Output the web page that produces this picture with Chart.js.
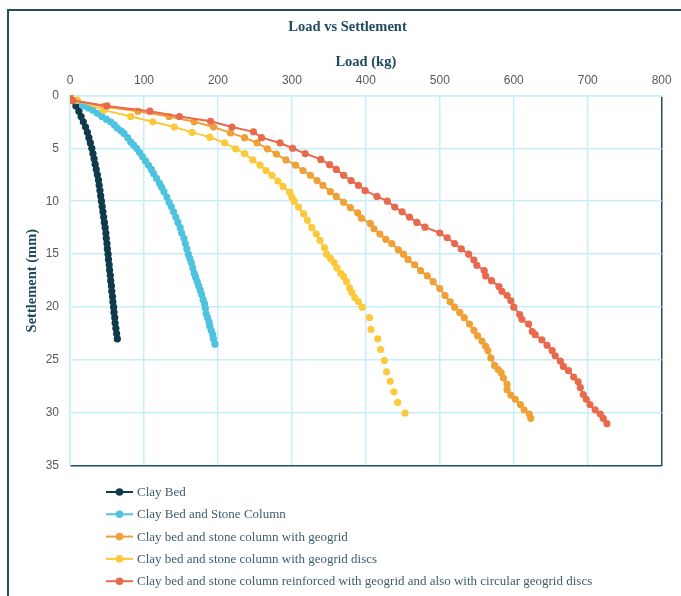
<!DOCTYPE html>
<html>
<head>
<meta charset="utf-8">
<script src="https://cdn.jsdelivr.net/npm/chart.js@4.4.1/dist/chart.umd.min.js"></script>
<style>
  html, body { margin: 0; padding: 0; background: #ffffff; overflow: hidden; width: 681px; height: 596px; }
  #frame { position: absolute; left: 7px; top: 9px; width: 700px; height: 620px;
           border-left: 2px solid #1f4e5f; border-top: 2px solid #1f4e5f; }
  #c { position: absolute; left: 0; top: 0; }
</style>
</head>
<body>
<div id="frame"><canvas id="c" width="677" height="587"></canvas></div>
<script>
// ---------- DATA ----------
const seriesNames = [
  'Clay Bed',
  'Clay Bed and Stone Column',
  'Clay bed and stone column with geogrid',
  'Clay bed and stone column with geogrid discs',
  'Clay bed and stone column reinforced with geogrid and also with circular geogrid discs'
];

const xTicks = [0, 100, 200, 300, 400, 500, 600, 700, 800];
const yTicks = [0, 5, 10, 15, 20, 25, 30, 35];

// Clay Bed
const clayLoad = [0,4,8,12,15,18,21,23.5,25.5,27.5,29.5,31,32.5,34,35.5,37,38.5,39.5,40.5,41.5,42.5,43.5,44.5,45.5,46.5,47.5,48.5,49,50,50.5,51.5,52,53,53.5,54.5,55,56,56.5,57.5,58,59,59.5,60.5,61,62,63,64];
const claySettle = [0,0.5,1,1.5,2,2.5,3,3.5,4,4.5,5,5.5,6,6.5,7,7.5,8,8.5,9,9.5,10,10.5,11,11.5,12,12.5,13,13.5,14,14.5,15,15.5,16,16.5,17,17.5,18,18.5,19,19.5,20,20.5,21,21.5,22,22.5,23];

// Clay Bed and Stone Column
const scLoad = [0,8,18,25,31,37,43,49,55,60,64,69,73,78,82,86,90,94,98,102,106,110,113,117,121,124,127,131,134,137,140,143,146,149,151,154,156,158,160,162,164,166,168,170,172,174,176,178,180,182,183,184,186,188,189,191,193,194,196];
const scSettle = [0,0.5,1.0,1.2,1.4,1.7,2.0,2.25,2.5,2.8,3.1,3.35,3.6,4.0,4.4,4.7,5.0,5.4,5.8,6.2,6.6,7.0,7.4,7.85,8.3,8.7,9.1,9.6,10.1,10.5,11.0,11.5,12.0,12.5,13.0,13.5,14.0,14.5,15.0,15.4,15.8,16.3,16.8,17.2,17.6,18.0,18.4,18.8,19.3,19.7,20.1,20.6,21.0,21.4,21.8,22.2,22.6,23.0,23.5];

// Clay bed and stone column with geogrid
const ggLoad = [0,3,46,92,134,168,194,217,236,253,267,279,292,305,315,325,334,342,352,360,370,379,389,394,406,411,419,427,435,444,451,457,466,474,483,491,500,507,514,520,527,533,540,546,551,557,562,565,569,574,579,583,586,591,591,596,602,609,614,621,623];
const ggSettle = [0,0.5,1.05,1.5,2.0,2.5,3.0,3.55,4.0,4.5,5.05,5.55,6.1,6.6,7.1,7.55,8.05,8.5,9.1,9.55,10.1,10.6,11.1,11.6,12.1,12.6,13.1,13.6,14.0,14.6,15.0,15.5,16.0,16.55,17.05,17.6,18.25,18.9,19.5,20.0,20.5,21.0,21.6,22.2,22.7,23.2,23.7,24.1,24.8,25.5,25.9,26.2,26.7,27.3,27.8,28.3,28.7,29.2,29.7,30.1,30.5];

// Clay bed and stone column with geogrid discs
const gdLoad = [0,10,46,82,112,141,165,189,209,224,236,247,257,265,273,281,288,297,300,303,309,316,321,327,333,338,344,347,352,357,361,366,370,374,378,381,385,390,395,405,407,416,420,425,428,433,438,443,453];
const gdSettle = [0,0.45,1.4,2.0,2.5,3.0,3.5,3.95,4.5,5.05,5.5,6.1,6.6,7.1,7.55,8.1,8.6,9.15,9.6,10.0,10.55,11.2,11.8,12.5,13.1,13.7,14.4,15.0,15.4,15.8,16.3,16.8,17.1,17.6,18.2,18.6,19.1,19.5,20.0,21.0,22.1,23.0,24.0,25.05,26.1,27.0,28.0,29.0,30.0];

// Reinforced with geogrid and circular geogrid discs
const rcLoad = [0,4,50,108,148,190,219,248,259,284,301,318,339,351,360,370,380,390,399,415,429,439,449,459,469,480,500,510,520,529,539,546,550,560,562,570,580,584,591,596,600,608,611,620,625,629,638,645,652,656,663,667,674,681,687,690,694,698,703,710,717,721,726];
const rcSettle = [0,0.5,1.0,1.5,2.0,2.45,3.0,3.45,4.0,4.5,5.0,5.5,6.05,6.55,7.0,7.55,8.05,8.5,9.0,9.55,10.0,10.55,11.0,11.5,12.0,12.45,13.0,13.45,14.0,14.5,15.0,15.55,16.05,16.55,17.05,17.5,18.05,18.5,18.9,19.4,20.0,20.7,21.15,21.6,22.3,22.6,23.1,23.6,24.1,24.6,25.1,25.6,26.0,26.6,27.05,27.6,28.25,28.7,29.2,29.7,30.1,30.5,31.0];

// ---------- STYLES ----------
const colors = ['#0e3a4b', '#4ec3e0', '#f0a035', '#fdc93a', '#e9694c'];
const GRID = '#c6effb';
const DARK = '#1f4e5f';
const TITLE_COLOR = '#1e4a5b';

function pts(xs, ys) { return xs.map((x, i) => ({ x: x, y: ys[i] })); }
const seriesData = [
  pts(clayLoad, claySettle),
  pts(scLoad, scSettle),
  pts(ggLoad, ggSettle),
  pts(gdLoad, gdSettle),
  pts(rcLoad, rcSettle)
];

const datasets = seriesData.map((d, i) => {
  const ds = {
    label: seriesNames[i],
    data: d,
    borderColor: colors[i],
    backgroundColor: colors[i],
    pointBackgroundColor: colors[i],
    pointBorderColor: colors[i],
    pointBorderWidth: 0,
    pointRadius: 3.6,
    pointHoverRadius: 3.6,
    borderWidth: 2,
    tension: 0,
    fill: false,
    yAxisID: 'y'
  };
  if (i === 3) {
    ds.segment = { borderColor: c => (c.p0.parsed.y >= 20 ? 'rgba(0,0,0,0)' : undefined) };
  }
  return ds;
});
datasets.forEach((ds, i) => { ds.order = 4 - i; });

const stackLegend = {
  id: 'stackLegend',
  afterDraw(chart) {
    const ctx = chart.ctx;
    const y0 = 481, dy = 22.3;
    chart.data.datasets.forEach((ds, i) => {
      const y = y0 + i * dy;
      ctx.save();
      ctx.strokeStyle = ds.borderColor;
      ctx.lineWidth = 2;
      ctx.beginPath(); ctx.moveTo(97, y); ctx.lineTo(124, y); ctx.stroke();
      ctx.fillStyle = ds.backgroundColor;
      ctx.beginPath(); ctx.arc(110.5, y, 3.8, 0, Math.PI * 2); ctx.fill();
      ctx.fillStyle = '#3e5d6a';
      ctx.font = '13px "Liberation Serif", serif';
      ctx.textBaseline = 'middle';
      ctx.textAlign = 'left';
      ctx.fillText(ds.label, 128, y + 0.5);
      ctx.restore();
    });
  }
};

new Chart(document.getElementById('c'), {
  type: 'line',
  data: { datasets: datasets },
  plugins: [stackLegend],
  options: {
    responsive: false,
    animation: false,
    devicePixelRatio: 1,
    layout: { padding: { left: 0, right: 0, top: 0, bottom: 132 } },
    plugins: {
      legend: { display: false },
      tooltip: { enabled: false },
      title: {
        display: true,
        text: 'Load vs Settlement',
        color: TITLE_COLOR,
        font: { family: '"Liberation Serif", serif', size: 14.5, weight: 'bold', lineHeight: 1.2 },
        padding: { top: 8, bottom: 0 }
      }
    },
    scales: {
      x: {
        type: 'linear',
        position: 'top',
        min: 0, max: 800,
        afterBuildTicks: s => { s.ticks = xTicks.map(v => ({ value: v })); },
        afterFit: s => { s.height = 58.9; },
        title: {
          display: true,
          text: 'Load (kg)',
          color: TITLE_COLOR,
          font: { family: '"Liberation Serif", serif', size: 14.5, weight: 'bold', lineHeight: 1.2 },
          padding: { top: 17, bottom: 0 }
        },
        ticks: {
          color: '#595959',
          padding: 7,
          font: { family: '"Liberation Sans", Arial, sans-serif', size: 12 }
        },
        grid: {
          drawTicks: false,
          color: c => (c.tick && c.tick.value === 800 ? DARK : GRID),
          lineWidth: 1.5
        },
        border: { display: true, color: GRID, width: 1.5 }
      },
      y: {
        type: 'linear',
        position: 'left',
        reverse: true,
        min: 0, max: 35,
        afterBuildTicks: s => { s.ticks = yTicks.map(v => ({ value: v })); },
        afterFit: s => { s.width = 61; },
        title: {
          display: true,
          text: 'Settlement (mm)',
          color: TITLE_COLOR,
          font: { family: '"Liberation Serif", serif', size: 14.5, weight: 'bold', lineHeight: 1.2 },
          padding: { top: 15, bottom: 0 }
        },
        ticks: {
          color: '#595959',
          padding: 11,
          font: { family: '"Liberation Sans", Arial, sans-serif', size: 12 }
        },
        grid: {
          drawTicks: false,
          color: c => (c.tick && c.tick.value === 35 ? DARK : GRID),
          lineWidth: 1.5
        },
        border: { display: true, color: GRID, width: 1.5 }
      },
      yRightSpace: {
        type: 'linear',
        position: 'right',
        display: true,
        min: 0, max: 35,
        afterFit: s => { s.width = 24.3; },
        ticks: { display: false },
        grid: { display: false, drawTicks: false },
        border: { display: false },
        title: { display: false }
      }
    }
  }
});
</script>
</body>
</html>
